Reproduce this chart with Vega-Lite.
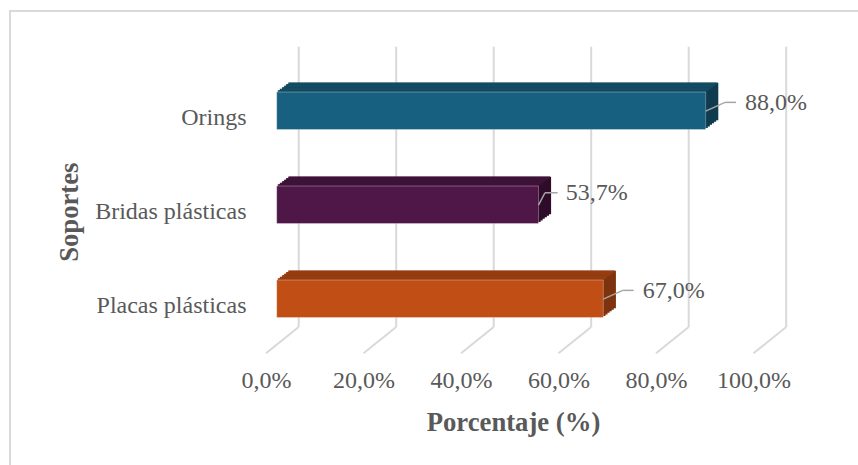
{
  "$schema": "https://vega.github.io/schema/vega-lite/v6.json",
  "width": 848,
  "height": 454,
  "autosize": "none",
  "padding": {"left": 10, "top": 11, "right": 0, "bottom": 0},
  "background": "white",
  "config": {
    "view": {"stroke": "#d9d9d9", "strokeWidth": 2, "strokeDash": [848, 1302, 454]},
    "font": "Liberation Serif",
    "locale": {"number": {"decimal": ",", "thousands": ".", "grouping": [3], "currency": ["", " €"]}}
  },
  "datasets": {
    "bars": [
      {"soporte": "Orings", "pct": 0.88},
      {"soporte": "Bridas plásticas", "pct": 0.537},
      {"soporte": "Placas plásticas", "pct": 0.67}
    ],
    "grid": [
      {"t": 0}, {"t": 0.2}, {"t": 0.4}, {"t": 0.6}, {"t": 0.8}, {"t": 1}
    ]
  },
  "data": {"name": "bars"},
  "encoding": {
    "x": {
      "field": "pct", "type": "quantitative",
      "scale": {"domain": [0, 1], "range": [288.7, 776.2], "nice": false, "zero": true}
    },
    "y": {
      "field": "soporte", "type": "nominal",
      "scale": {
        "domain": ["Orings", "Bridas plásticas", "Placas plásticas"],
        "range": [35.7, 316], "paddingInner": 0.601, "paddingOuter": 0.2915, "align": 0.827
      }
    }
  },
  "resolve": {"scale": {"color": "independent"}},
  "layer": [
    {
      "data": {"name": "grid"},
      "mark": {"type": "rule", "color": "#d9d9d9", "strokeWidth": 2, "yOffset": -45.3, "y2Offset": 28.25},
      "encoding": {
        "x": {"field": "t", "type": "quantitative"},
        "y": {"datum": "Orings", "type": "nominal", "bandPosition": 0},
        "y2": {"datum": "Placas plásticas"}
      }
    },
    {
      "data": {"name": "grid"},
      "mark": {"type": "rule", "color": "#d9d9d9", "strokeWidth": 2, "x2Offset": -32.7, "yOffset": 47, "y2Offset": 54.55},
      "encoding": {
        "x": {"field": "t", "type": "quantitative"},
        "x2": {"field": "t"},
        "y": {"datum": "Placas plásticas", "type": "nominal", "bandPosition": 0},
        "y2": {"datum": "Placas plásticas"}
      }
    },
    {
      "encoding": {"color": {"field": "soporte", "type": "nominal", "legend": null,
        "scale": {"domain": ["Orings", "Bridas plásticas", "Placas plásticas"], "range": ["#0e3b4e", "#2e0c29", "#7c330e"]}}},
      "layer": [
        {"mark": {"type": "bar", "xOffset": -19.9, "x2Offset": -19.9, "yOffset": -1.55, "y2Offset": -1.55}},
        {"mark": {"type": "bar", "xOffset": -17.8, "x2Offset": -17.8, "yOffset": -3.1, "y2Offset": -3.1}},
        {"mark": {"type": "bar", "xOffset": -15.7, "x2Offset": -15.7, "yOffset": -4.65, "y2Offset": -4.65}},
        {"mark": {"type": "bar", "xOffset": -13.6, "x2Offset": -13.6, "yOffset": -6.2, "y2Offset": -6.2}},
        {"mark": {"type": "bar", "xOffset": -11.5, "x2Offset": -11.5, "yOffset": -7.75, "y2Offset": -7.75}},
        {"mark": {"type": "bar", "xOffset": -9.4, "x2Offset": -9.4, "yOffset": -9.3, "y2Offset": -9.3}}
      ]
    },
    {
      "encoding": {"color": {"field": "soporte", "type": "nominal", "legend": null,
        "scale": {"domain": ["Orings", "Bridas plásticas", "Placas plásticas"], "range": ["#134b63", "#3e1238", "#963d10"]}}},
      "layer": [
        {"mark": {"type": "bar", "height": 1.9, "xOffset": -20.95, "x2Offset": -20.95, "yOffset": -19.525}},
        {"mark": {"type": "bar", "height": 1.9, "xOffset": -18.85, "x2Offset": -18.85, "yOffset": -21.075}},
        {"mark": {"type": "bar", "height": 1.9, "xOffset": -16.75, "x2Offset": -16.75, "yOffset": -22.625}},
        {"mark": {"type": "bar", "height": 1.9, "xOffset": -14.65, "x2Offset": -14.65, "yOffset": -24.175}},
        {"mark": {"type": "bar", "height": 1.9, "xOffset": -12.55, "x2Offset": -12.55, "yOffset": -25.725}},
        {"mark": {"type": "bar", "height": 1.9, "xOffset": -10.45, "x2Offset": -10.45, "yOffset": -27.275}}
      ]
    },
    {
      "mark": {"type": "bar", "xOffset": -22, "x2Offset": -22, "stroke": "#ffffff", "strokeOpacity": 0.3, "strokeWidth": 1},
      "encoding": {
        "x": {
          "field": "pct", "type": "quantitative",
          "axis": {
            "values": [0, 0.2, 0.4, 0.6, 0.8, 1], "format": ".1%",
            "domain": false, "ticks": false, "tickSize": 0, "grid": false,
            "labelPadding": -84.5, "labelBaseline": "middle", "labelOffset": -32.7,
            "labelFont": "Liberation Serif", "labelFontSize": 24, "labelColor": "#595959",
            "labelFlush": false, "labelOverlap": false,
            "title": "Porcentaje (%)", "titleFont": "Liberation Serif", "titleFontSize": 26.7,
            "titleFontWeight": "bold", "titleColor": "#595959",
            "titleX": 503, "titleY": -43, "titleAlign": "center", "titleBaseline": "middle"
          }
        },
        "y": {
          "field": "soporte", "type": "nominal",
          "axis": {
            "domain": false, "ticks": false, "tickSize": 0, "grid": false,
            "labelPadding": -236, "labelAlign": "right", "labelBaseline": "middle", "labelOffset": 7.5,
            "labelFont": "Liberation Serif", "labelFontSize": 24, "labelColor": "#595959",
            "title": "Soportes", "titleFont": "Liberation Serif", "titleFontSize": 26.7,
            "titleFontWeight": "bold", "titleColor": "#595959", "titleAngle": -90,
            "titleX": 59, "titleY": 200.7, "titleAlign": "center", "titleBaseline": "middle"
          }
        },
        "color": {"field": "soporte", "type": "nominal", "legend": null,
          "scale": {"domain": ["Orings", "Bridas plásticas", "Placas plásticas"], "range": ["#18607f", "#4f1747", "#c14f15"]}}
      }
    },
    {
      "transform": [{"filter": "datum.soporte !== 'Bridas plásticas'"}],
      "layer": [
        {
          "mark": {"type": "rule", "color": "#a6a6a6", "strokeWidth": 1.5, "xOffset": -22, "x2Offset": -2.7, "yOffset": 0.3, "y2Offset": -8.4},
          "encoding": {"x2": {"field": "pct"}, "y2": {"field": "soporte"}}
        },
        {
          "mark": {"type": "rule", "color": "#a6a6a6", "strokeWidth": 1.5, "xOffset": -2.7, "x2Offset": 8.3, "yOffset": -8.4, "y2Offset": -8.4},
          "encoding": {"x2": {"field": "pct"}, "y2": {"field": "soporte"}}
        },
        {
          "mark": {"type": "text", "align": "left", "baseline": "middle", "dx": 17.3, "dy": -8, "fontSize": 24, "font": "Liberation Serif", "color": "#595959"},
          "encoding": {"text": {"field": "pct", "type": "quantitative", "format": ".1%"}}
        }
      ]
    },
    {
      "transform": [{"filter": "datum.soporte === 'Bridas plásticas'"}],
      "layer": [
        {
          "mark": {"type": "rule", "color": "#a6a6a6", "strokeWidth": 1.5, "xOffset": -22, "x2Offset": -15.5, "yOffset": 0.3, "y2Offset": -12},
          "encoding": {"x2": {"field": "pct"}, "y2": {"field": "soporte"}}
        },
        {
          "mark": {"type": "rule", "color": "#a6a6a6", "strokeWidth": 1.5, "xOffset": -15.5, "x2Offset": -2.8, "yOffset": -12, "y2Offset": -12},
          "encoding": {"x2": {"field": "pct"}, "y2": {"field": "soporte"}}
        },
        {
          "mark": {"type": "text", "align": "left", "baseline": "middle", "dx": 5.2, "dy": -12, "fontSize": 24, "font": "Liberation Serif", "color": "#595959"},
          "encoding": {"text": {"field": "pct", "type": "quantitative", "format": ".1%"}}
        }
      ]
    }
  ]
}
